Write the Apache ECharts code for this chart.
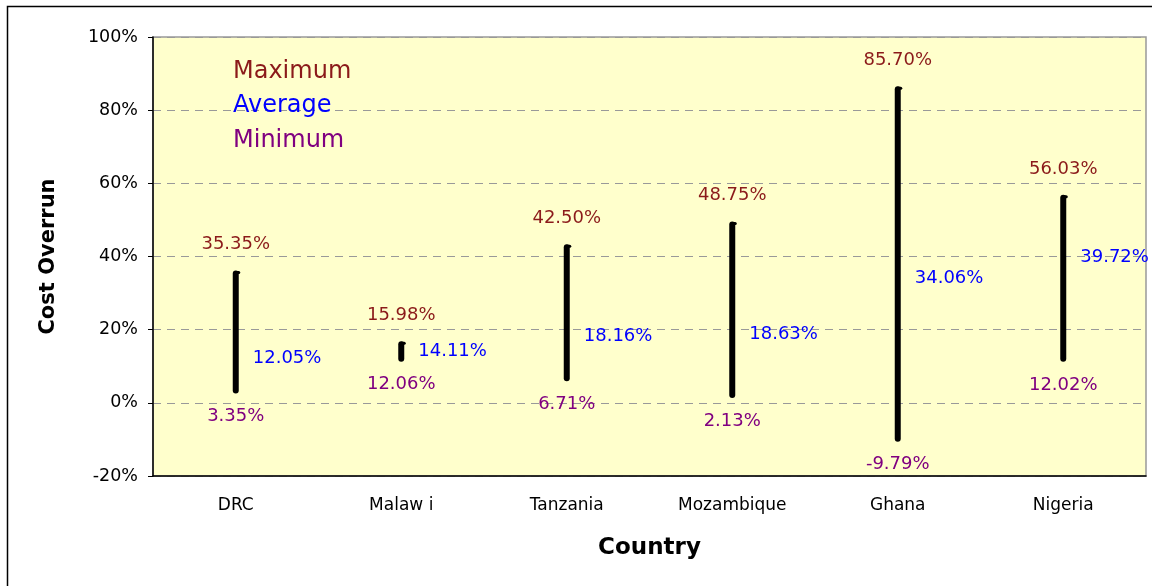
<!DOCTYPE html>
<html>
<head>
<meta charset="utf-8">
<script src="https://cdn.jsdelivr.net/npm/echarts@6/dist/echarts.min.js"></script>
<style>
  html, body { margin: 0; padding: 0; background: #fff; }
  #chart { width: 1152px; height: 586px; }
</style>
</head>
<body>
<div id="chart"></div>
<script>
// chart values
const countries = ['DRC', 'Malaw i', 'Tanzania', 'Mozambique', 'Ghana', 'Nigeria'];
const maxVals = [35.35, 15.98, 42.50, 48.75, 85.70, 56.03];
const avgVals = [12.05, 14.11, 18.16, 18.63, 34.06, 39.72];
const minVals = [3.35, 12.06, 6.71, 2.13, -9.79, 12.02];

const pct = v => v.toFixed(2) + '%';
const labelFont = { fontFamily: 'DejaVu Sans', fontSize: 18 };

const myChart = echarts.init(document.getElementById('chart'));

// hidden points that only carry the value labels
function labelSeries(name, vals, color, label) {
  return {
    name: name,
    type: 'scatter',
    symbolSize: 0,
    silent: true,
    z: 5,
    itemStyle: { opacity: 1 },
    data: vals.map((v, i) => [i, v]),
    label: Object.assign({
      show: true,
      position: 'inside',
      color: color,
      textBorderWidth: 0,
      textShadowBlur: 0,
      formatter: p => pct(p.value[1])
    }, labelFont, label)
  };
}

const option = {
  animation: false,
  graphic: [
    // outer frame
    { type: 'rect', left: 5, top: 4, shape: { width: 1170, height: 620 },
      style: { fill: 'none', stroke: '#000', lineWidth: 1.5 }, z: 0 },
    // text legend in the upper left
    { type: 'text', left: 233, top: 60, style: { text: 'Maximum', fill: '#8B1A1A', font: '24px "DejaVu Sans"' }, z: 10 },
    { type: 'text', left: 233, top: 94, style: { text: 'Average', fill: '#0000FF', font: '24px "DejaVu Sans"' }, z: 10 },
    { type: 'text', left: 233, top: 129, style: { text: 'Minimum', fill: '#800080', font: '24px "DejaVu Sans"' }, z: 10 }
  ],
  grid: {
    left: 153, top: 37, right: 6, bottom: 110,
    show: true,
    backgroundColor: '#FFFFCC',
    borderColor: '#999',
    borderWidth: 1.5
  },
  xAxis: {
    type: 'category',
    data: countries,
    boundaryGap: true,
    name: 'Country',
    nameLocation: 'middle',
    nameGap: 61,
    nameTextStyle: { fontFamily: 'DejaVu Sans', fontSize: 23, fontWeight: 'bold', color: '#000' },
    axisLine: { onZero: false, lineStyle: { color: '#000', width: 1.5 } },
    axisTick: { length: 4, lineStyle: { color: '#000' } },
    axisLabel: { margin: 21, color: '#000', fontFamily: 'DejaVu Sans', fontSize: 17 }
  },
  yAxis: {
    type: 'value',
    min: -20,
    max: 100,
    interval: 20,
    name: 'Cost Overrun',
    nameLocation: 'middle',
    nameGap: 94,
    nameTextStyle: { fontFamily: 'DejaVu Sans', fontSize: 21, fontWeight: 'bold', color: '#000' },
    axisLine: { show: true, lineStyle: { color: '#000', width: 1.5 } },
    axisTick: { show: true, length: 5, lineStyle: { color: '#000' } },
    axisLabel: { margin: 15, color: '#000', fontFamily: 'DejaVu Sans', fontSize: 17.5, formatter: v => v + '%' },
    splitLine: { lineStyle: { color: '#999', type: [8, 6], width: 1 } }
  },
  series: [
    {
      // high-low line for each country
      type: 'custom',
      z: 4,
      data: countries.map((c, i) => [i, minVals[i], maxVals[i]]),
      renderItem: function (params, api) {
        const i = api.value(0);
        const lo = api.coord([i, api.value(1)]);
        const hi = api.coord([i, api.value(2)]);
        return {
          type: 'group',
          children: [
            { type: 'line', shape: { x1: lo[0], y1: lo[1], x2: hi[0], y2: hi[1] },
              style: { stroke: '#000', lineWidth: 6, lineCap: 'round' } },
            { type: 'line', shape: { x1: hi[0], y1: hi[1] - 1, x2: hi[0] + 3, y2: hi[1] - 1 },
              style: { stroke: '#000', lineWidth: 3, lineCap: 'round' } }
          ]
        };
      }
    },
    labelSeries('Maximum', maxVals, '#8B1A1A', { align: 'center', verticalAlign: 'middle', offset: [0, -29] }),
    labelSeries('Average', avgVals, '#0000FF', { align: 'left', verticalAlign: 'middle', offset: [17, 0] }),
    labelSeries('Minimum', minVals, '#800080', { align: 'center', verticalAlign: 'middle', offset: [0, 26] })
  ]
};

myChart.setOption(option);
</script>
</body>
</html>
